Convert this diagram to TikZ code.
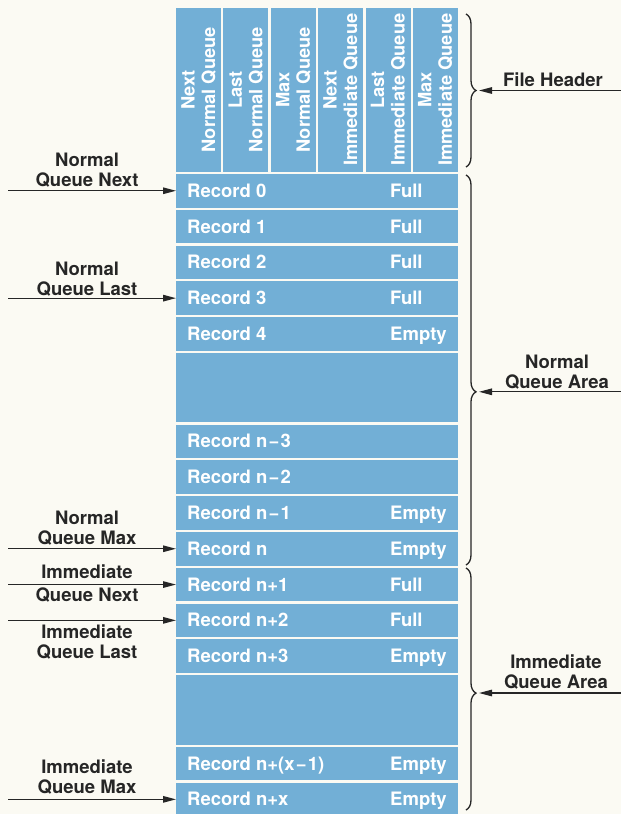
\documentclass[tikz,border=0pt]{standalone}
\usepackage{fontspec}
\setmainfont{TeX Gyre Heros}
\usetikzlibrary{arrows.meta,decorations.pathreplacing}
\definecolor{bg}{HTML}{FBFAF3}
\definecolor{cellblue}{HTML}{72AFD6}
\definecolor{ink}{HTML}{262626}
\newcommand{\mns}{\kern1.2pt−\kern1.2pt}
\begin{document}
\begin{tikzpicture}[x=1pt,y=-1pt,
  cell/.style={fill=cellblue,draw=none,minimum width=282pt,minimum height=33.5pt,inner sep=0pt,outer sep=0pt},
  hcell/.style={fill=cellblue,draw=none,minimum width=45.08pt,minimum height=163.5pt,inner sep=0pt,outer sep=0pt},
  celltxt/.style={text=white,font=\fontsize{18.5}{21}\selectfont\bfseries,inner sep=0pt,text height=13.2pt,text depth=0pt,anchor=west},
  htxt/.style={text=white,font=\fontsize{18.3}{20.5}\selectfont\bfseries,rotate=90,align=center,inner sep=0pt},
  lbl/.style={text=ink,font=\fontsize{18.5}{20}\selectfont\bfseries,align=center,inner sep=0pt},
  arr/.style={draw=ink,line width=1.3pt,-{Triangle[length=13pt,width=6.5pt]}},
  brc/.style={draw=ink,line width=1.3pt,decorate,decoration={brace,amplitude=10pt,aspect=#1}},
  brc/.default=0.5,
]
\useasboundingbox (0,0) rectangle (621,814);
\fill[bg] (0,0) rectangle (621,814);
\clip (0,0) rectangle (621,814);

% header
\foreach \k/\a/\b in {0/Next/Normal Queue,1/Last/Normal Queue,2/Max/Normal Queue,3/Next/Immediate Queue,4/Last/Immediate Queue,5/Max/Immediate Queue}{
  \node[hcell] (h\k) at ({198.54+47.38*\k},89.75) {};
  \node[htxt] (ht\k) at (h\k) {\a\\\b};
}

% records
\foreach \i/\y/\nm/\st in {0/190.75/Record 0/Full,1/226.55/Record 1/Full,2/262.35/Record 2/Full,3/298.15/Record 3/Full,4/333.95/Record 4/Empty,7/441.35/Record n\mns 3/,8/477.15/Record n\mns 2/,9/512.95/Record n\mns 1/Empty,10/548.75/Record n/Empty,11/584.55/Record n+1/Full,12/620.35/Record n+2/Full,13/656.15/Record n+3/Empty,16/763.55/Record n+(x\mns 1)/Empty,17/799.35/Record n+x/Empty}{
  \node[cell] (r\i) at (317,\y) {};
  \node[celltxt] (rn\i) at ([xshift=11pt]r\i.west) {\nm};
  \node[celltxt] (rs\i) at ([xshift=214pt]r\i.west) {\st};
}
\node[cell,minimum height=69.3pt] (b1) at (317,387.65) {};
\node[cell,minimum height=69.3pt] (b2) at (317,709.85) {};

% left labels and pointers
\coordinate (L) at (8,0);
\node[lbl] (l1) at (87,170) {Normal\\Queue Next};
\draw[arr] (r0.west -| L) -- (r0.west);
\node[lbl] (l2) at (87,279) {Normal\\Queue Last};
\draw[arr] (r3.west -| L) -- (r3.west);
\node[lbl] (l3) at (87,528.5) {Normal\\Queue Max};
\draw[arr] (r10.west -| L) -- (r10.west);
\node[lbl] (l4a) at (87,572) {Immediate};
\node[lbl] (l4b) at (87,595) {Queue Next};
\draw[arr] (r11.west -| L) -- (r11.west);
\node[lbl] (l5) at (87,642) {Immediate\\Queue Last};
\draw[arr] (r12.west -| L) -- (r12.west);
\node[lbl] (l6) at (87,777) {Immediate\\Queue Max};
\draw[arr] (r17.west -| L) -- (r17.west);

% right braces and labels
\coordinate (fhA) at (466,14);  \coordinate (fhB) at (466,167);
\coordinate (nqA) at (466,175); \coordinate (nqB) at (466,565);
\coordinate (iqA) at (466,568); \coordinate (iqB) at (466,810);
\draw[brc=0.5] (fhA) -- (fhB);
\draw[brc=0.556] (nqA) -- (nqB);
\draw[brc=0.517] (iqA) -- (iqB);

\coordinate (fhT) at (479,90.5);  \coordinate (fhS) at (621,90.5);
\coordinate (nqT) at (479,391.8); \coordinate (nqS) at (621,391.8);
\coordinate (iqT) at (479,693);   \coordinate (iqS) at (621,693);
\draw[arr] (fhS) -- (fhT);
\draw[arr] (nqS) -- (nqT);
\draw[arr] (iqS) -- (iqT);

\node[lbl] (fh) at (553,80) {File Header};
\node[lbl] (nqa) at (557,372) {Normal\\Queue Area};
\node[lbl] (iqa) at (556,671.5) {Immediate\\Queue Area};
\end{tikzpicture}
\end{document}
